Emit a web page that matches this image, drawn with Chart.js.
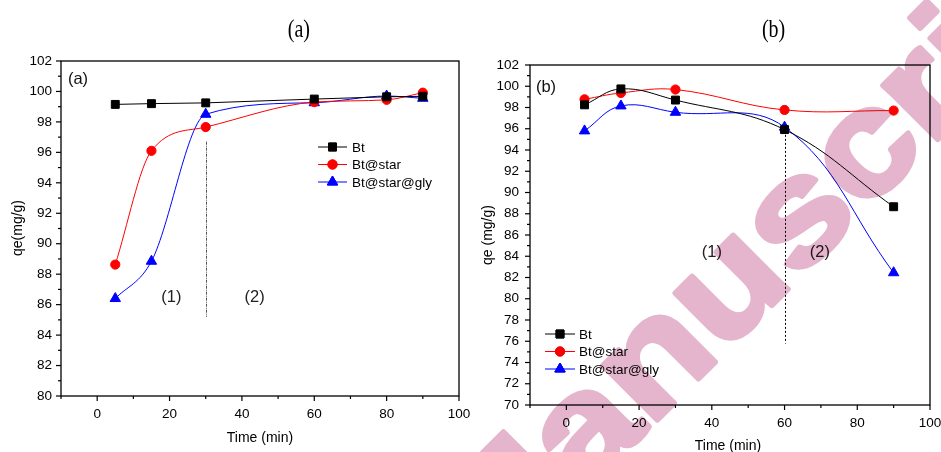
<!DOCTYPE html>
<html>
<head>
<meta charset="utf-8">
<script src="https://cdn.jsdelivr.net/npm/chart.js@4.4.1/dist/chart.umd.min.js"></script>
<style>
  html, body { margin:0; padding:0; background:#fff; }
  body { width:941px; height:452px; position:relative; overflow:hidden; font-family:"Liberation Sans", Arial, sans-serif; }
  #wrapA { position:absolute; left:0; top:0; width:470px; height:452px; }
  #wrapB { position:absolute; left:470px; top:0; width:471px; height:452px; }
  .ptitle { position:absolute; top:15px; font-family:"Liberation Serif","Times New Roman",serif; font-size:25px; line-height:28px; color:#000; transform:scaleX(0.8); transform-origin:center; }
  #wm { position:absolute; left:0; top:0; width:941px; height:452px; mix-blend-mode:multiply; pointer-events:none; }
</style>
</head>
<body>
<div id="wrapA"><canvas id="cA" width="470" height="452"></canvas></div>
<div id="wrapB"><canvas id="cB" width="471" height="452"></canvas></div>
<div class="ptitle" style="left:285px;">(a)</div>
<div class="ptitle" style="left:759px;">(b)</div>
<svg id="wm" width="941" height="452" xmlns="http://www.w3.org/2000/svg">
  <g transform="rotate(-45) scale(1,0.86)">
    <text x="-80" y="886" font-family="Liberation Sans, Arial, sans-serif" font-weight="bold" font-size="170" fill="rgb(228,181,204)" stroke="rgb(228,181,204)" stroke-width="6" stroke-linejoin="round">Manuscript</text>
  </g>
</svg>
<script>
// ---------- data ----------
const seriesNames = ['Bt', 'Bt@star', 'Bt@star@gly'];

const timeA = [5, 15, 30, 60, 80, 90];
const btA   = [99.15, 99.2, 99.25, 99.5, 99.65, 99.68];
const starA = [88.63, 96.1, 97.66, 99.3, 99.45, 99.92];
const glyA  = [86.4, 88.85, 98.5, 99.26, 99.7, 99.55];

const timeB = [5, 15, 30, 60, 90];
const btB   = [98.25, 99.75, 98.7, 95.92, 88.66];
const starB = [98.77, 99.37, 99.69, 97.77, 97.71];
const glyB  = [95.8, 98.15, 97.55, 96.15, 82.45];

const xTickVals  = [0, 20, 40, 60, 80, 100];
const yTickValsA = [80, 82, 84, 86, 88, 90, 92, 94, 96, 98, 100, 102];
const yTickValsB = [70, 72, 74, 76, 78, 80, 82, 84, 86, 88, 90, 92, 94, 96, 98, 100, 102];

// ---------- helpers ----------
const FONT = '"Liberation Sans", Arial, sans-serif';
const colors = ['#000000', '#ff0000', '#0000ff'];
const styles = ['rect', 'circle', 'triangle'];
const radii  = [5.6, 4.6, 6];

function toXY(xs, ys) { return xs.map((x, i) => ({ x: x, y: ys[i] })); }

function makeDatasets(xs, seriesList, interp) {
  return seriesList.map((ys, i) => ({
    label: seriesNames[i],
    data: toXY(xs, ys),
    borderColor: colors[i],
    backgroundColor: colors[i],
    borderWidth: 1,
    pointStyle: styles[i],
    pointRadius: radii[i],
    pointBorderWidth: 1,
    pointBackgroundColor: colors[i],
    pointBorderColor: colors[i],
    tension: interp[i] === 'line' ? 0 : 0.4,
    cubicInterpolationMode: interp[i] === 'monotone' ? 'monotone' : 'default',
    fill: false,
    clip: false
  }));
}

function drawMarker(ctx, style, r, x, y, color) {
  ctx.save();
  ctx.fillStyle = color; ctx.strokeStyle = color; ctx.lineWidth = 1;
  if (Chart.helpers && Chart.helpers.drawPoint) {
    Chart.helpers.drawPoint(ctx, { pointStyle: style, radius: r, rotation: 0, borderWidth: 1 }, x, y);
    ctx.fill(); ctx.stroke();
  }
  ctx.restore();
}

const originPlugin = {
  id: 'origin',
  beforeDatasetsDraw(chart, args, o) {
    const { ctx, scales: { x, y } } = chart;
    ctx.save();
    ctx.strokeStyle = o.guide.color;
    ctx.lineWidth = 1;
    ctx.setLineDash(o.guide.dash);
    const gx = Math.round(x.getPixelForValue(o.guide.x)) + 0.5;
    ctx.beginPath();
    ctx.moveTo(gx, y.getPixelForValue(o.guide.y0));
    ctx.lineTo(gx, y.getPixelForValue(o.guide.y1));
    ctx.stroke();
    ctx.restore();
  },
  afterDraw(chart, args, o) {
    const { ctx, chartArea: a, scales: { x, y } } = chart;
    ctx.save();
    ctx.strokeStyle = '#000';
    ctx.lineWidth = 1.3;
    ctx.strokeRect(a.left, a.top, a.right - a.left, a.bottom - a.top);
    ctx.lineWidth = 1.2;
    for (let v = x.min; v <= x.max + 1e-9; v += 10) {
      const px = x.getPixelForValue(v);
      const major = Math.abs(((v % 20) + 20) % 20) < 1e-9;
      ctx.beginPath();
      ctx.moveTo(px, a.bottom);
      ctx.lineTo(px, a.bottom + (major ? 5 : 3));
      ctx.stroke();
    }
    for (let v = y.min; v <= y.max + 1e-9; v += 1) {
      const py = y.getPixelForValue(v);
      const major = Math.abs(v % 2) < 1e-9;
      ctx.beginPath();
      ctx.moveTo(a.left, py);
      ctx.lineTo(a.left - (major ? 5 : 3), py);
      ctx.stroke();
    }
    // axis titles
    ctx.fillStyle = '#000';
    ctx.font = '14px ' + FONT;
    ctx.textAlign = 'center';
    ctx.textBaseline = 'middle';
    ctx.fillText(o.xTitle, o.xTitlePos[0], o.xTitlePos[1]);
    ctx.save();
    ctx.translate(o.yTitlePos[0], o.yTitlePos[1]);
    ctx.rotate(-Math.PI / 2);
    ctx.fillText(o.yTitle, 0, 0);
    ctx.restore();
    // panel tag
    ctx.font = '16.5px ' + FONT;
    ctx.fillStyle = '#111';
    ctx.fillText(o.tag, o.tagPos[0], o.tagPos[1]);
    // region labels
    ctx.fillStyle = '#222';
    o.regions.forEach(rg => {
      ctx.fillText(rg.text, x.getPixelForValue(rg.x), y.getPixelForValue(rg.y));
    });
    // legend
    ctx.font = '13.5px ' + FONT;
    ctx.textAlign = 'left';
    chart.data.datasets.forEach((ds, i) => {
      const ly = o.legend.y0 + i * o.legend.dy;
      ctx.save();
      ctx.strokeStyle = ds.borderColor;
      ctx.lineWidth = 1;
      ctx.beginPath();
      ctx.moveTo(o.legend.x0, ly);
      ctx.lineTo(o.legend.x1, ly);
      ctx.stroke();
      ctx.restore();
      drawMarker(ctx, ds.pointStyle, ds.pointRadius, (o.legend.x0 + o.legend.x1) / 2, ly, ds.borderColor);
      ctx.fillStyle = '#000';
      ctx.fillText(ds.label, o.legend.tx, ly + 1);
    });
    ctx.restore();
  }
};

function makeChart(id, xs, seriesList, interp, yMin, yMax, yTicks, cfg) {
  return new Chart(document.getElementById(id), {
    type: 'line',
    data: { datasets: makeDatasets(xs, seriesList, interp) },
    plugins: [originPlugin],
    options: {
      responsive: false,
      animation: false,
      events: [],
      layout: { padding: { left: 0, right: cfg.padRight, top: cfg.padTop, bottom: 0 } },
      plugins: {
        legend: { display: false },
        tooltip: { enabled: false },
        origin: cfg.origin
      },
      scales: {
        x: {
          type: 'linear',
          min: -10, max: 100,
          afterBuildTicks: s => { s.ticks = xTickVals.map(v => ({ value: v })); },
          afterFit: s => { s.height = cfg.xAxisH; s.paddingLeft = 0; s.paddingRight = 0; },
          grid: { display: false, drawTicks: false },
          border: { display: false },
          ticks: { color: '#000', font: { family: FONT, size: 13.5 }, padding: cfg.xPad, maxRotation: 0, autoSkip: false }
        },
        y: {
          type: 'linear',
          min: yMin, max: yMax,
          afterBuildTicks: s => { s.ticks = yTicks.map(v => ({ value: v })); },
          afterFit: s => { s.width = cfg.yAxisW; s.paddingTop = 0; s.paddingBottom = 0; },
          grid: { display: false, drawTicks: false },
          border: { display: false },
          ticks: { color: '#000', font: { family: FONT, size: 13.5 }, padding: cfg.yPad, autoSkip: false }
        }
      }
    }
  });
}

makeChart('cA', timeA, [btA, starA, glyA], ['line', 'monotone', 'monotone'], 80, 102, yTickValsA, {
  padRight: 11, padTop: 61, xAxisH: 56, yAxisW: 61, xPad: 10, yPad: 9,
  origin: {
    guide: { x: 30, y0: 96.7, y1: 85.2, color: '#555', dash: [3, 1, 1, 1] },
    xTitle: 'Time (min)', xTitlePos: [260, 438],
    yTitle: 'qe(mg/g)', yTitlePos: [18, 228],
    tag: '(a)', tagPos: [78, 79],
    regions: [{ text: '(1)', x: 20.5, y: 86.5 }, { text: '(2)', x: 43.5, y: 86.5 }],
    legend: { x0: 318, x1: 347, tx: 352, y0: 147, dy: 17.5 }
  }
});

makeChart('cB', timeB, [btB, starB, glyB], ['spline', 'spline', 'spline'], 70, 102, yTickValsB, {
  padRight: 11, padTop: 65, xAxisH: 47, yAxisW: 60, xPad: 10, yPad: 11,
  origin: {
    guide: { x: 60, y0: 95.8, y1: 75.8, color: '#000', dash: [2, 2] },
    xTitle: 'Time (min)', xTitlePos: [258, 446],
    yTitle: 'qe (mg/g)', yTitlePos: [18, 235],
    tag: '(b)', tagPos: [76, 87],
    regions: [{ text: '(1)', x: 40, y: 84.4 }, { text: '(2)', x: 69.7, y: 84.4 }],
    legend: { x0: 75, x1: 105, tx: 109, y0: 334, dy: 17.5 }
  }
});
</script>
</body>
</html>
